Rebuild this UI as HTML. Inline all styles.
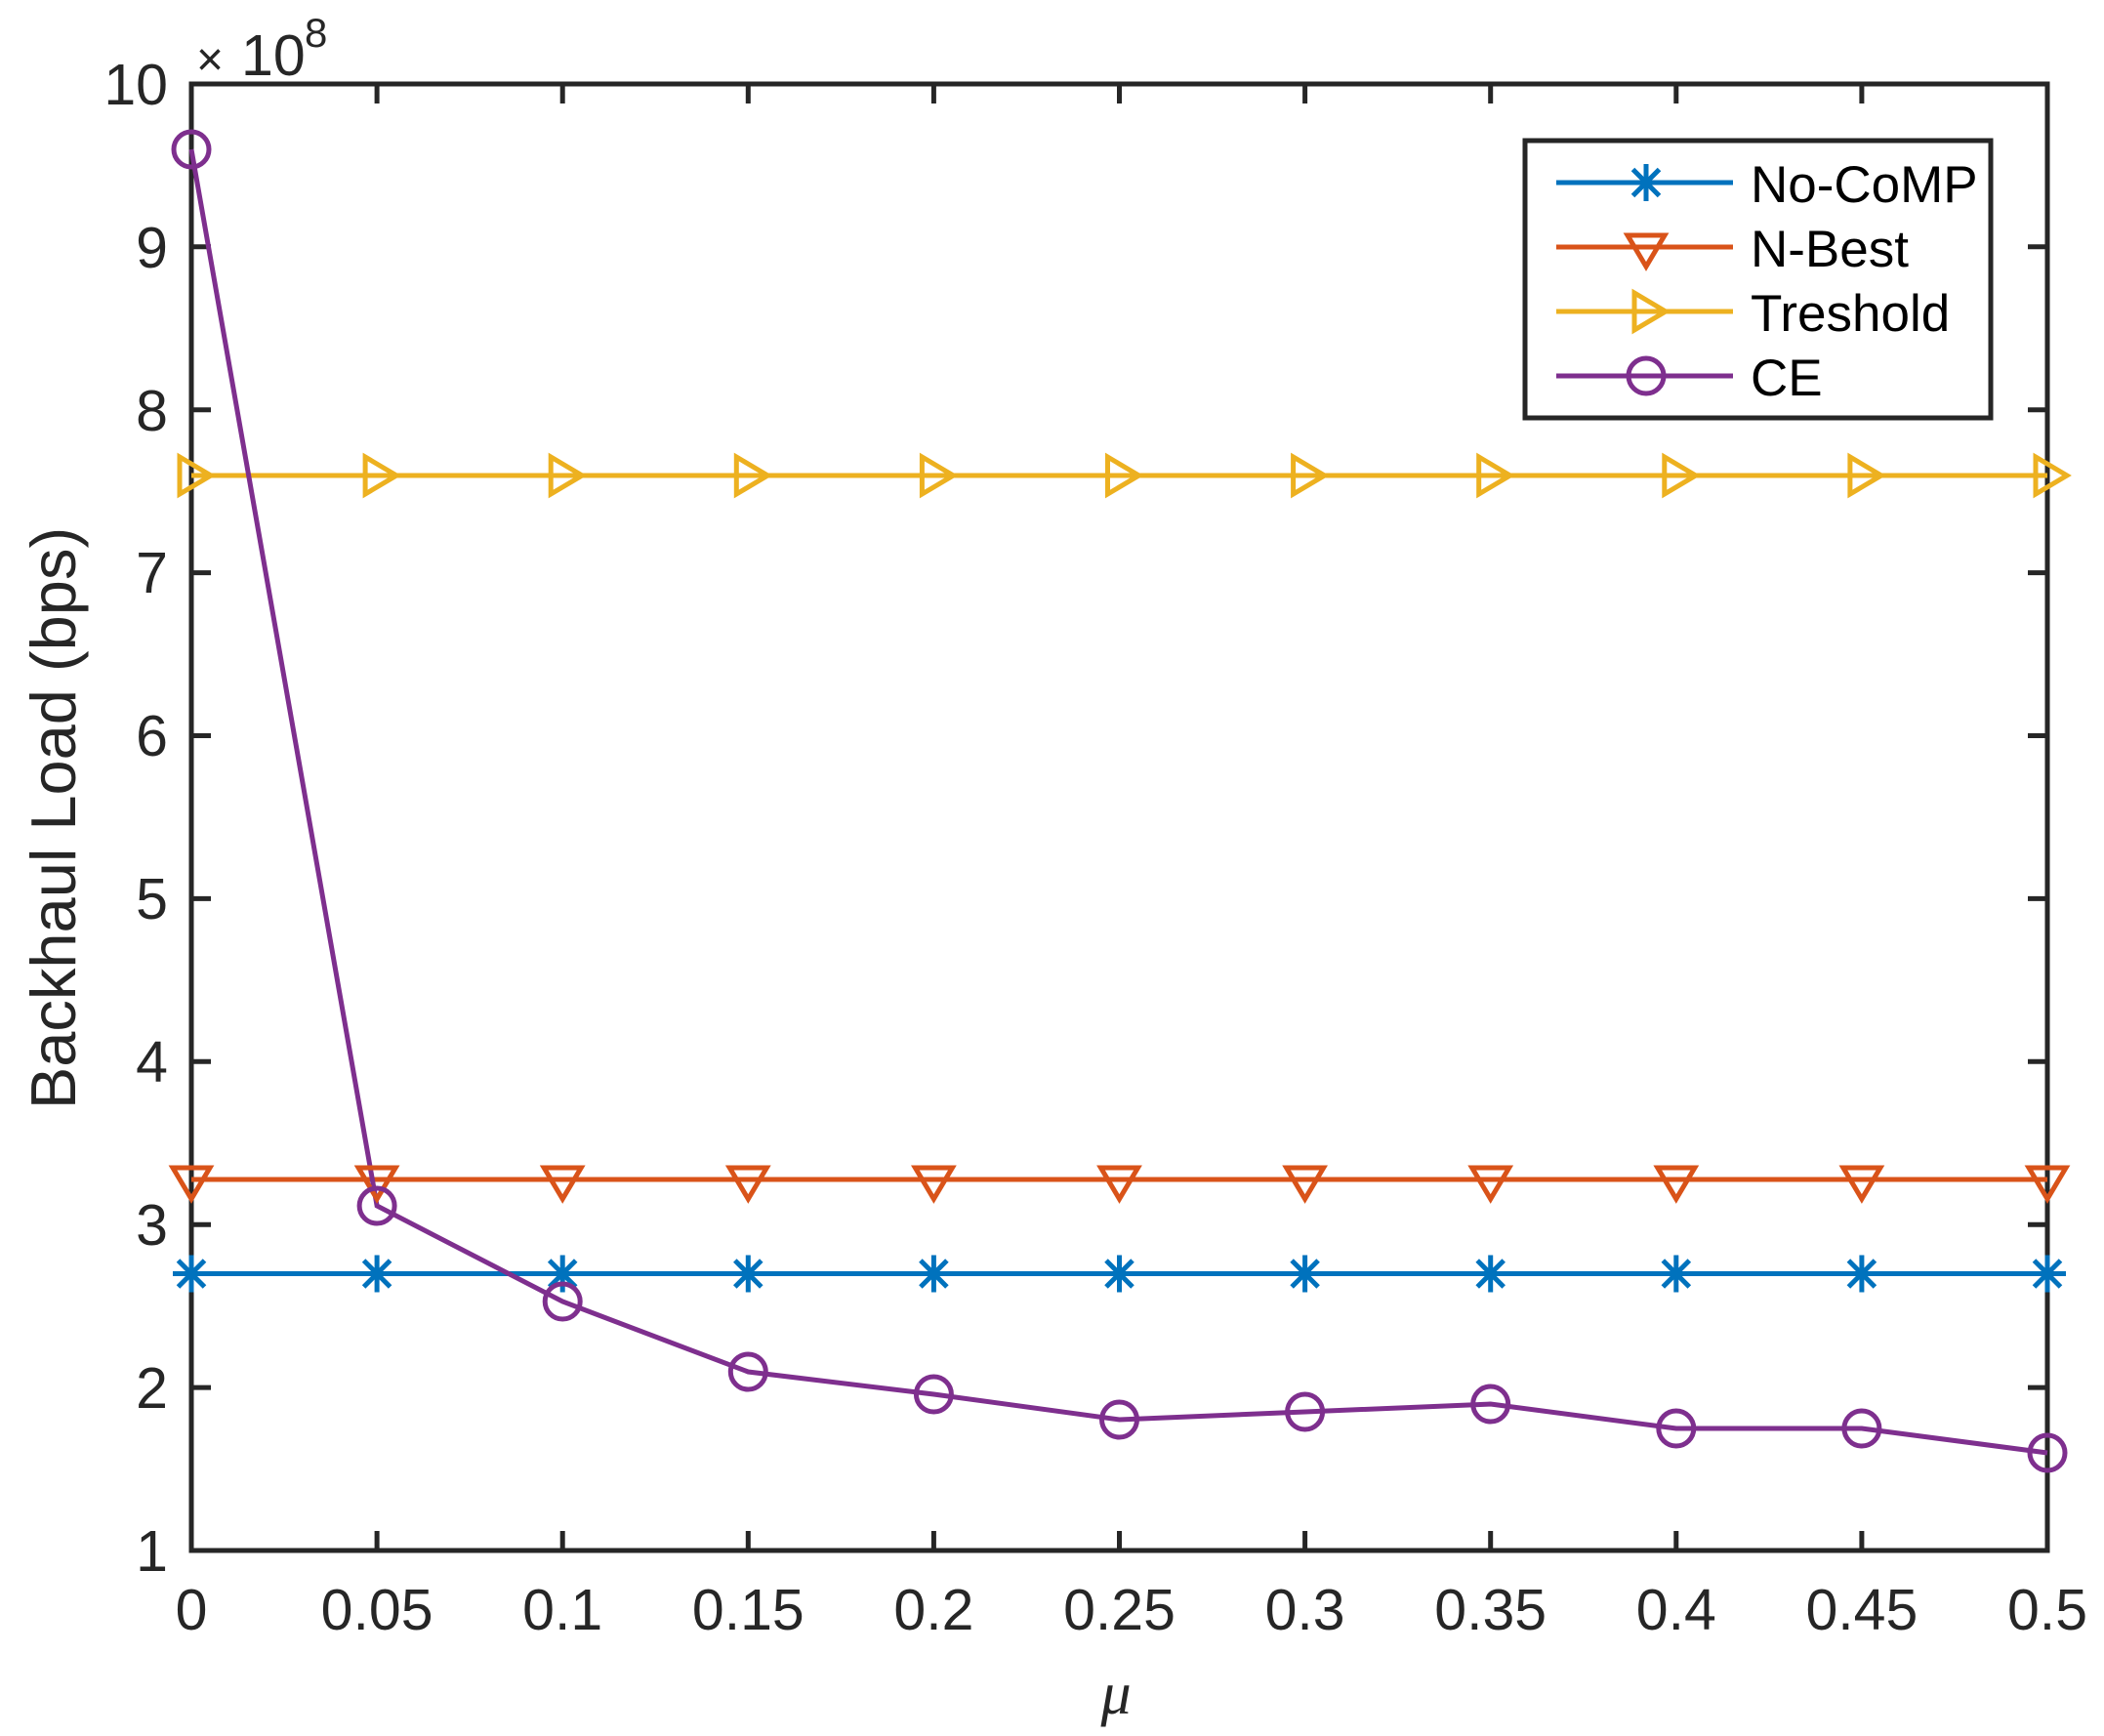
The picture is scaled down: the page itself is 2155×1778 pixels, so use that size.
<!DOCTYPE html>
<html><head><meta charset="utf-8"><style>html,body{margin:0;padding:0;background:#fff}svg{display:block}</style></head>
<body>
<svg xmlns="http://www.w3.org/2000/svg" width="2155" height="1778" viewBox="0 0 2155 1778">
<defs>
<g id="star"><path d="M-19,0H19M0,-19V19M-13.5,-13.5L13.5,13.5M-13.5,13.5L13.5,-13.5" stroke="#0072BD" stroke-width="5" fill="none"/></g>
<g id="tri"><polygon points="-19,-12 19,-12 0,20" stroke="#D95319" stroke-width="5" fill="none"/></g>
<g id="rt"><polygon points="-12,-19 -12,19 20,0" stroke="#EDB120" stroke-width="5" fill="none"/></g>
<g id="circ"><circle r="18" stroke="#7E2F8E" stroke-width="5" fill="none"/></g>
</defs>
<g font-family="Liberation Sans, sans-serif" fill="#262626">
<g stroke="#262626" stroke-width="5" fill="none">
<rect x="196" y="86" width="1901" height="1502"/>
<path d="M386.1,1588v-20M576.2,1588v-20M766.3,1588v-20M956.4,1588v-20M1146.5,1588v-20M1336.6,1588v-20M1526.7,1588v-20M1716.8,1588v-20M1906.9,1588v-20
M386.1,86v20M576.2,86v20M766.3,86v20M956.4,86v20M1146.5,86v20M1336.6,86v20M1526.7,86v20M1716.8,86v20M1906.9,86v20
M196,1421.1h20M196,1254.2h20M196,1087.3h20M196,920.4h20M196,753.5h20M196,586.6h20M196,419.7h20M196,252.8h20
M2097,1421.1h-20M2097,1254.2h-20M2097,1087.3h-20M2097,920.4h-20M2097,753.5h-20M2097,586.6h-20M2097,419.7h-20M2097,252.8h-20"/>
</g>
<g font-size="59" text-anchor="end">
<text x="172" y="1609">1</text><text x="172" y="1442">2</text><text x="172" y="1275">3</text><text x="172" y="1108">4</text><text x="172" y="941">5</text><text x="172" y="774">6</text><text x="172" y="607">7</text><text x="172" y="441">8</text><text x="172" y="274">9</text><text x="172" y="107">10</text>
</g>
<g font-size="59" text-anchor="middle">
<text x="196" y="1669">0</text><text x="386.1" y="1669">0.05</text><text x="576.2" y="1669">0.1</text><text x="766.3" y="1669">0.15</text><text x="956.4" y="1669">0.2</text><text x="1146.5" y="1669">0.25</text><text x="1336.6" y="1669">0.3</text><text x="1526.7" y="1669">0.35</text><text x="1716.8" y="1669">0.4</text><text x="1906.9" y="1669">0.45</text><text x="2097" y="1669">0.5</text>
</g>
<text x="201" y="77" font-size="48">×</text>
<text x="247" y="77" font-size="59">10</text>
<text x="312" y="48" font-size="42">8</text>
<text transform="translate(77,838) rotate(-90)" font-size="65" text-anchor="middle">Backhaul Load (bps)</text>
<text x="1143" y="1755" font-size="62" font-family="Liberation Serif, serif" font-style="italic" text-anchor="middle">μ</text>
</g>
<g fill="none" stroke-width="5">
<path d="M196,1304.5H2097" stroke="#0072BD"/>
<path d="M196,1208H2097" stroke="#D95319"/>
<path d="M196,487H2097" stroke="#EDB120"/>
<path d="M196,153L386.1,1235L576.2,1333L766.3,1405L956.4,1428L1146.5,1454L1336.6,1446L1526.7,1438L1716.8,1463L1906.9,1463L2097,1488" stroke="#7E2F8E"/>
</g>
<g>
<use href="#star" x="196" y="1304.5"/><use href="#star" x="386.1" y="1304.5"/><use href="#star" x="576.2" y="1304.5"/><use href="#star" x="766.3" y="1304.5"/><use href="#star" x="956.4" y="1304.5"/><use href="#star" x="1146.5" y="1304.5"/><use href="#star" x="1336.6" y="1304.5"/><use href="#star" x="1526.7" y="1304.5"/><use href="#star" x="1716.8" y="1304.5"/><use href="#star" x="1906.9" y="1304.5"/><use href="#star" x="2097" y="1304.5"/>
<use href="#tri" x="196" y="1208"/><use href="#tri" x="386.1" y="1208"/><use href="#tri" x="576.2" y="1208"/><use href="#tri" x="766.3" y="1208"/><use href="#tri" x="956.4" y="1208"/><use href="#tri" x="1146.5" y="1208"/><use href="#tri" x="1336.6" y="1208"/><use href="#tri" x="1526.7" y="1208"/><use href="#tri" x="1716.8" y="1208"/><use href="#tri" x="1906.9" y="1208"/><use href="#tri" x="2097" y="1208"/>
<use href="#rt" x="196" y="487"/><use href="#rt" x="386.1" y="487"/><use href="#rt" x="576.2" y="487"/><use href="#rt" x="766.3" y="487"/><use href="#rt" x="956.4" y="487"/><use href="#rt" x="1146.5" y="487"/><use href="#rt" x="1336.6" y="487"/><use href="#rt" x="1526.7" y="487"/><use href="#rt" x="1716.8" y="487"/><use href="#rt" x="1906.9" y="487"/><use href="#rt" x="2097" y="487"/>
<use href="#circ" x="196" y="153"/><use href="#circ" x="386.1" y="1235"/><use href="#circ" x="576.2" y="1333"/><use href="#circ" x="766.3" y="1405"/><use href="#circ" x="956.4" y="1428"/><use href="#circ" x="1146.5" y="1454"/><use href="#circ" x="1336.6" y="1446"/><use href="#circ" x="1526.7" y="1438"/><use href="#circ" x="1716.8" y="1463"/><use href="#circ" x="1906.9" y="1463"/><use href="#circ" x="2097" y="1488"/>
</g>
<rect x="1562" y="144" width="477" height="284" fill="#fff" stroke="#262626" stroke-width="5"/>
<g stroke-width="5">
<path d="M1594,187H1775" stroke="#0072BD"/><use href="#star" x="1686" y="187"/>
<path d="M1594,253H1775" stroke="#D95319"/><use href="#tri" x="1686" y="253"/>
<path d="M1594,319H1775" stroke="#EDB120"/><use href="#rt" x="1686" y="319"/>
<path d="M1594,385H1775" stroke="#7E2F8E"/><use href="#circ" x="1686" y="385"/>
</g>
<g font-family="Liberation Sans, sans-serif" font-size="53" fill="#000">
<text x="1793" y="207">No-CoMP</text>
<text x="1793" y="273">N-Best</text>
<text x="1793" y="339">Treshold</text>
<text x="1793" y="405">CE</text>
</g>
</svg>
</body></html>
